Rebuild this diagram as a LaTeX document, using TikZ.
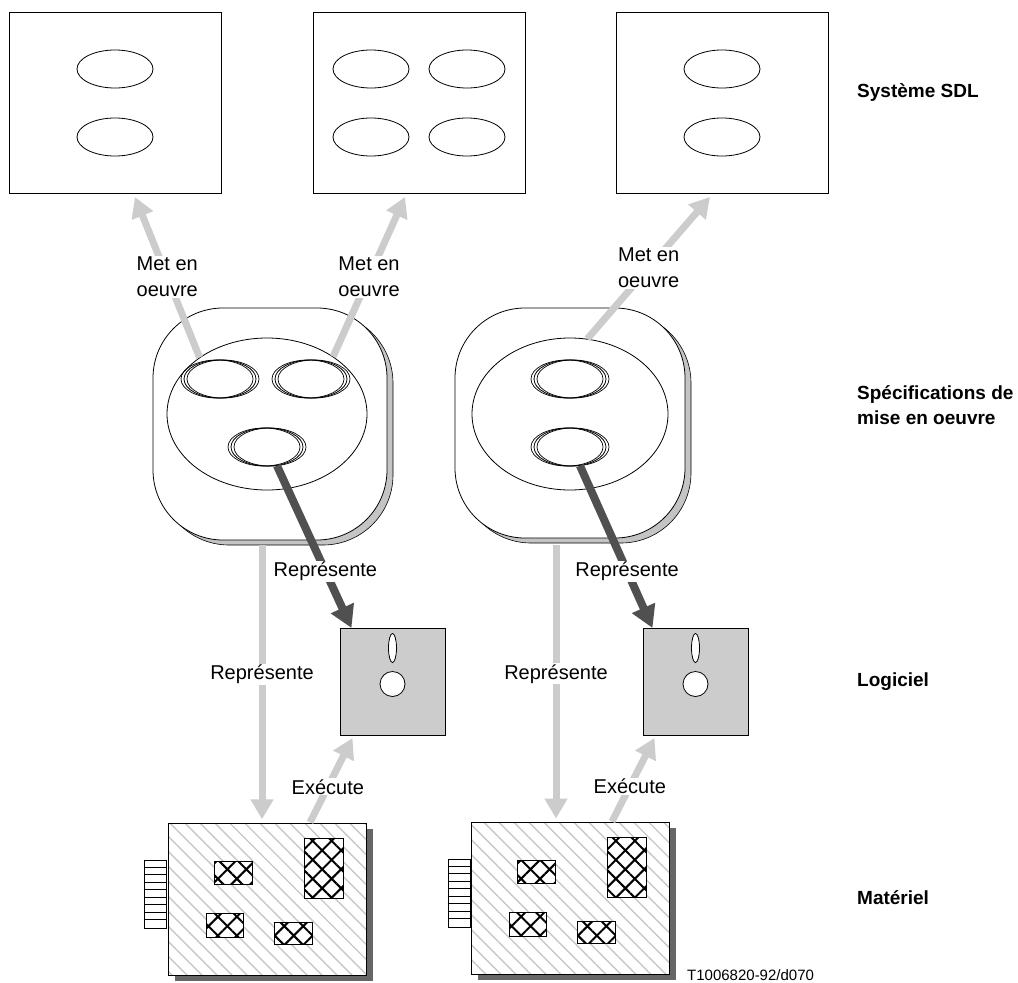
\documentclass[tikz,border=0pt]{standalone}
\usepackage{fontspec}
\setmainfont{Liberation Sans}
\usetikzlibrary{arrows.meta}
\usetikzlibrary{shapes.geometric}
\usetikzlibrary{patterns.meta}
\usetikzlibrary{shadows}

\definecolor{liteline}{HTML}{CCCCCC}
\definecolor{darkline}{HTML}{505050}
\definecolor{diskgray}{HTML}{CCCCCC}
\definecolor{boardshade}{HTML}{666666}
\definecolor{specshade}{HTML}{C4C4C4}
\definecolor{hatchgray}{HTML}{C8C8C8}

\tikzset{
  txt/.style={font=\fontsize{20}{26}\selectfont, align=center},
  lbl/.style={txt, fill=white, inner sep=1pt},
  tier/.style={font=\fontsize{19}{25}\selectfont\bfseries, align=left, anchor=west, inner sep=0pt},
  sysbox/.style={draw, line width=1pt, minimum width=212pt, minimum height=181pt},
  oval/.style={draw, ellipse, line width=0.8pt, inner sep=0pt, minimum width=76pt, minimum height=38pt},
  multioval/.style={oval, minimum width=72pt,
    preaction={draw, line width=0.7pt, transform canvas={xshift=-3pt}},
    preaction={draw, line width=0.7pt, transform canvas={xshift=3pt}}},
  specbody/.style={general shadow={draw=black, line width=0.6pt, fill=specshade, shadow xshift=6pt, shadow yshift=-5pt},
    draw, line width=0.8pt, fill=white, rounded corners=70pt, minimum width=234pt, minimum height=232pt},
  specin/.style={draw, ellipse, line width=0.8pt, inner sep=0pt, minimum width=200pt, minimum height=152pt},
  disk/.style={draw, line width=1pt, fill=diskgray, minimum width=105pt, minimum height=107pt},
  slot/.style={draw, ellipse, fill=white, line width=0.8pt, inner sep=0pt, minimum width=8pt, minimum height=29pt},
  hub/.style={draw, circle, fill=white, line width=0.8pt, inner sep=0pt, minimum size=25pt},
  board/.style={general shadow={fill=boardshade, shadow xshift=7pt, shadow yshift=-6pt},
    preaction={fill=white}, draw, line width=1pt, minimum width=198pt, minimum height=152pt,
    pattern={Lines[angle=-45, distance=10.6pt, line width=1.4pt]}, pattern color=hatchgray},
  chip/.style={preaction={fill=white}, draw, line width=1pt, inner sep=0pt,
    pattern={Hatch[angle=45, distance=13.4pt, line width=2pt]}},
  pins/.style={draw, line width=1pt, fill=white, inner sep=0pt, minimum width=22pt, minimum height=68pt},
  litearrow/.style={draw=liteline, line width=7pt, -{Triangle[width=22pt, length=20pt]}},
  darkarrow/.style={draw=darkline, line width=8pt, -{Triangle[width=24pt, length=22pt]}}
}

\begin{document}
\begin{tikzpicture}[x=1pt, y=-1pt]
\useasboundingbox (0, 0) rectangle (1018, 983);

% SDL systems
\node (sys1) at (115, 103) [sysbox] {};
\node (s1a) at (115, 69) [oval] {};
\node (s1b) at (115, 137) [oval] {};

\node (sys2) at (419, 103) [sysbox] {};
\node (s2a) at (371, 69) [oval] {};
\node (s2b) at (467, 69) [oval] {};
\node (s2c) at (371, 137) [oval] {};
\node (s2d) at (467, 137) [oval] {};

\node (sys3) at (722, 103) [sysbox] {};
\node (s3a) at (722, 69) [oval] {};
\node (s3b) at (722, 137) [oval] {};

% implementation specs
\node (spec1) at (270, 424) [specbody] {};
\node (in1) at (267, 414) [specin] {};
\node (a1) at (220, 379) [multioval] {};
\node (a2) at (311, 379) [multioval] {};
\node (a3) at (267, 447) [multioval] {};

\node (spec2) at (570, 423) [specbody, minimum width=230pt, minimum height=230pt] {};
\node (in2) at (570, 414) [specin, minimum width=196pt] {};
\node (b1) at (570, 379) [multioval] {};
\node (b2) at (570, 447) [multioval] {};

% software
\foreach \n/\x in {1/392.5, 2/695.5} {
  \node (disk\n) at (\x, 682) [disk] {};
  \node (slot\n) at ([yshift=34pt]disk\n.center) [slot] {};
  \node (hub\n) at ([yshift=-2pt]disk\n.center) [hub] {};
}

% hardware
\foreach \n/\x/\y in {1/267/899, 2/570/898} {
  \node (board\n) at (\x, \y) [board] {};
  \node (pins\n) at ([yshift=5pt]board\n.west) [pins, anchor=east] {};
  \foreach \k in {1,...,8}
    \draw[line width=1pt] (pins\n.north west) ++(0, \k*7.56) -- ++(22, 0);
  \node (chipa\n) at ([xshift=-34pt, yshift=26pt]board\n.center) [chip, minimum width=38pt, minimum height=23pt] {};
  \node (chipb\n) at ([xshift=57pt, yshift=31pt]board\n.center) [chip, minimum width=39pt, minimum height=60pt] {};
  \node (chipc\n) at ([xshift=-42pt, yshift=-26pt]board\n.center) [chip, minimum width=37pt, minimum height=24pt] {};
  \node (chipd\n) at ([xshift=26pt, yshift=-34pt]board\n.center) [chip, minimum width=38pt, minimum height=22pt] {};
}

% relations
\draw[litearrow] (in1.140) -- ([xshift=20pt, yshift=-3pt]sys1.south) node[lbl, pos=0.5] {Met en\\oeuvre};
\draw[litearrow] (in1.41) -- ([xshift=-14pt, yshift=-3pt]sys2.south) node[lbl, pos=0.5] {Met en\\oeuvre};
\draw[litearrow] (in2.77) -- ([xshift=-12pt, yshift=-3pt]sys3.south) node[lbl, pos=0.5] {Met en\\oeuvre};

\draw[darkarrow] (a3.-62) -- ([xshift=12pt]disk1.north west) node[lbl, pos=0.65] {Représente};
\draw[darkarrow] (b2.-62) -- ([xshift=10pt]disk2.north west) node[lbl, pos=0.65] {Représente};

\draw[litearrow] ([xshift=-8pt, yshift=-5pt]spec1.south) -- ([xshift=-5pt, yshift=3pt]board1.north) node[lbl, pos=0.47] {Représente};
\draw[litearrow] ([xshift=-14pt, yshift=-7pt]spec2.south) -- ([xshift=-14pt, yshift=3pt]board2.north) node[lbl, pos=0.47] {Représente};

\draw[litearrow] ([xshift=43pt]board1.north) -- ([xshift=-40pt, yshift=-2pt]disk1.south) node[lbl, pos=0.42] {Exécute};
\draw[litearrow] ([xshift=42pt]board2.north) -- ([xshift=-41pt, yshift=-2pt]disk2.south) node[lbl, pos=0.42] {Exécute};

% levels
\node (lsys) at (857, 93) [tier] {Système SDL};
\node (lspec) at (857, 405) [tier] {Spécifications de\\mise en oeuvre};
\node (lsoft) at (857, 682) [tier] {Logiciel};
\node (lhard) at (857, 898) [tier] {Matériel};

\node (tag) at (687, 975) [anchor=west, inner sep=0pt, font=\fontsize{15}{18}\selectfont] {T1006820-92/d070};
\end{tikzpicture}
\end{document}
